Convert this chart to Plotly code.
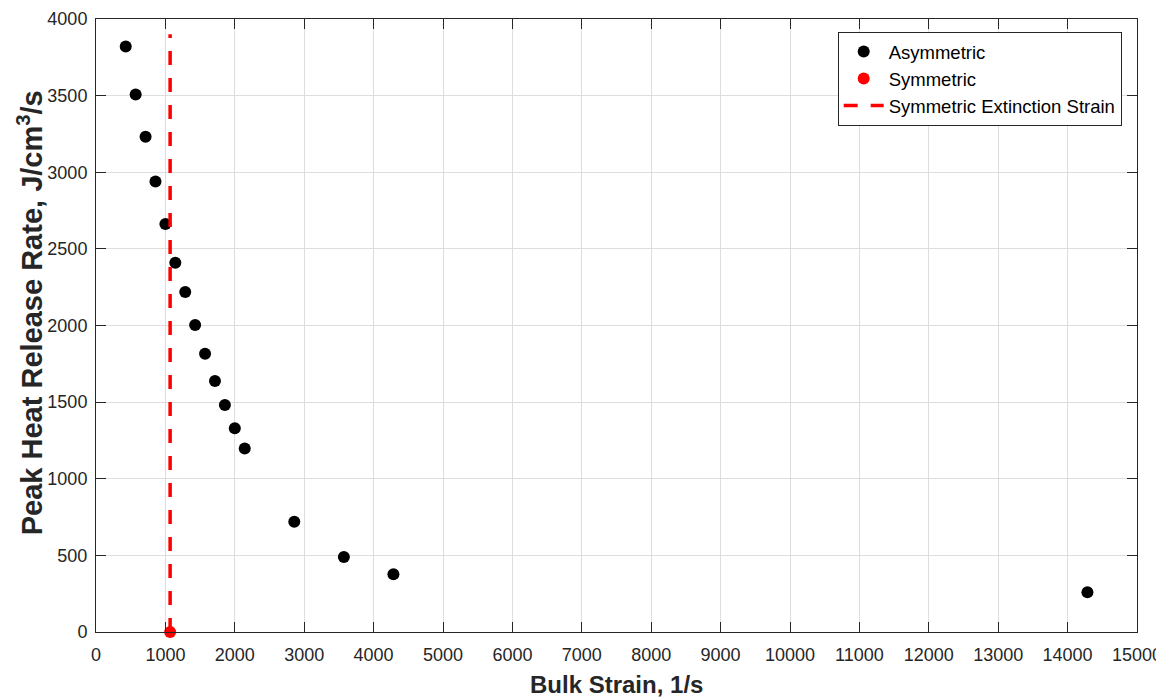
import plotly.graph_objects as go

# Data
strain_asym = [428.6, 571.4, 714.3, 857.1, 1000.0, 1142.9, 1285.7, 1428.6, 1571.4,
               1714.3, 1857.1, 2000.0, 2142.9, 2857.1, 3571.4, 4285.7, 14285.7]
hrr_asym = [3820, 3507, 3231, 2940, 2663, 2410, 2218, 2004, 1815,
            1638, 1481, 1330, 1198, 720, 489, 377, 259]
strain_sym = [1068]
hrr_sym = [0]
ext_strain = [1068, 1068]
ext_range = [0, 3900]

x_ticks = list(range(0, 15001, 1000))
y_ticks = list(range(0, 4001, 500))

FONT = "Liberation Sans, Arial, Helvetica, sans-serif"
AX = "#262626"
GRID = "#dedede"

fig = go.Figure()
fig.add_trace(go.Scatter(
    x=strain_asym, y=hrr_asym, mode="markers", name="Asymmetric",
    marker=dict(color="black", size=12), cliponaxis=False))
fig.add_trace(go.Scatter(
    x=strain_sym, y=hrr_sym, mode="markers", name="Symmetric",
    marker=dict(color="#ff0000", size=12), cliponaxis=False))
fig.add_trace(go.Scatter(
    x=ext_strain, y=ext_range, mode="lines", name="Symmetric Extinction Strain",
    line=dict(color="#ff0000", width=3.5, dash="14px,13px")))

axis_common = dict(
    showline=True, linecolor=AX, linewidth=1, mirror="ticks",
    ticks="inside", ticklen=10, tickcolor=AX, tickwidth=1,
    showgrid=True, gridcolor=GRID, gridwidth=1, zeroline=False,
    tickfont=dict(family=FONT, size=18, color=AX),
    automargin=False,
)

fig.update_xaxes(
    range=[0, 15000], tickvals=x_ticks, ticktext=[str(v) for v in x_ticks],
    ticklabelstandoff=6,
    **axis_common)
fig.update_yaxes(
    range=[0, 4000], tickvals=y_ticks, ticktext=[str(v) for v in y_ticks],
    ticklabelstandoff=4,
    **axis_common)

# page body adds an 8px offset; size the figure so the plot area lands where it should
fig.update_layout(
    width=1156, height=690,
    margin=dict(l=88, r=27, t=11, b=66),
    paper_bgcolor="white", plot_bgcolor="white",
    font=dict(family=FONT, color=AX),
    showlegend=True,
    legend=dict(
        x=0.9853, y=0.979, xanchor="right", yanchor="top",
        bgcolor="white", bordercolor=AX, borderwidth=1,
        font=dict(family=FONT, size=18.5, color="black"),
        itemwidth=40,
    ),
    annotations=[
        dict(text="<b>Bulk Strain, 1/s</b>", xref="paper", yref="paper",
             x=0.5, y=-0.085, xanchor="center", yanchor="middle", showarrow=False,
             font=dict(family=FONT, size=24, color=AX)),
        dict(text="<b>Peak Heat Release Rate, J/cm<sup>3</sup>/s</b>",
             xref="paper", yref="paper", x=-0.0634, y=0.52, textangle=-90,
             xanchor="center", yanchor="middle", showarrow=False,
             font=dict(family=FONT, size=29, color=AX)),
    ],
)

fig.write_html("out.html")
